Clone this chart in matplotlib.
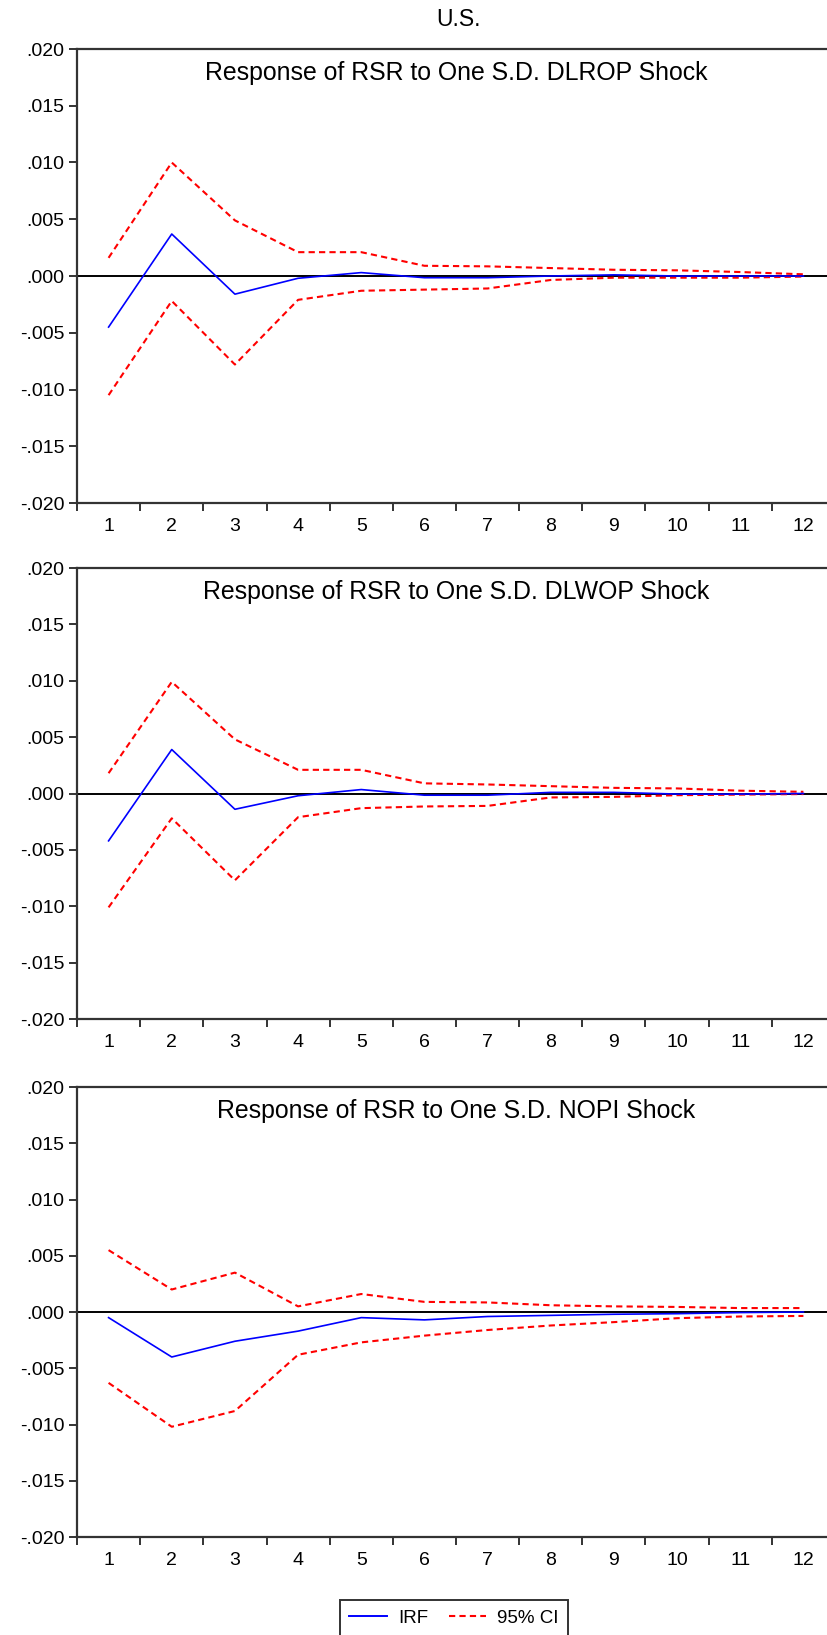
import matplotlib
matplotlib.use("Agg")
import matplotlib.pyplot as plt
from matplotlib.lines import Line2D

plt.rcParams['font.family'] = ['Liberation Sans', 'DejaVu Sans']

# ---- data (values in units of 1e-3) ----
periods = list(range(1, 13))
period_labels = [str(p) for p in periods]

ytick_values = [-0.020, -0.015, -0.010, -0.005, 0.000, 0.005, 0.010, 0.015, 0.020]
ytick_labels = ["-.020", "-.015", "-.010", "-.005", ".000", ".005", ".010", ".015", ".020"]

fig_title = "U.S."
panel_titles = [
    "Response of RSR to One S.D. DLROP Shock",
    "Response of RSR to One S.D. DLWOP Shock",
    "Response of RSR to One S.D. NOPI Shock",
]

irf_dlrop = [-4.5, 3.7, -1.6, -0.2, 0.3, -0.15, -0.15, 0.0, 0.1, 0.0, 0.0, 0.0]
hi_dlrop = [1.6, 10.0, 4.9, 2.1, 2.1, 0.9, 0.85, 0.7, 0.55, 0.5, 0.35, 0.15]
lo_dlrop = [-10.5, -2.2, -7.8, -2.1, -1.3, -1.2, -1.1, -0.35, -0.15, -0.15, -0.15, -0.05]

irf_dlwop = [-4.2, 3.9, -1.4, -0.2, 0.35, -0.15, -0.15, 0.1, 0.1, -0.05, -0.05, 0.0]
hi_dlwop = [1.8, 9.9, 4.8, 2.1, 2.1, 0.9, 0.8, 0.65, 0.5, 0.45, 0.25, 0.15]
lo_dlwop = [-10.1, -2.2, -7.7, -2.1, -1.3, -1.15, -1.1, -0.35, -0.3, -0.15, -0.1, -0.05]

irf_nopi = [-0.5, -4.0, -2.6, -1.7, -0.5, -0.7, -0.4, -0.3, -0.2, -0.15, -0.05, 0.0]
hi_nopi = [5.5, 2.0, 3.5, 0.5, 1.6, 0.9, 0.85, 0.6, 0.5, 0.45, 0.35, 0.35]
lo_nopi = [-6.3, -10.2, -8.8, -3.8, -2.7, -2.1, -1.6, -1.2, -0.9, -0.55, -0.4, -0.35]

legend_labels = ["IRF", "95% CI"]

panels = [
    (irf_dlrop, hi_dlrop, lo_dlrop),
    (irf_dlwop, hi_dlwop, lo_dlwop),
    (irf_nopi, hi_nopi, lo_nopi),
]

# ---- layout ----
W, H = 828, 1635
fig = plt.figure(figsize=(W / 100, H / 100), dpi=100)
fig.patch.set_facecolor("white")

left_px, right_px = 77, 835
panel_px = [(49, 503), (568, 1019), (1087, 1537)]

BLUE = "#0000FF"
RED = "#FF0000"
SPINE = "#333333"
scale = 1e-3

for (top, bot), (irf, hi, lo), title in zip(panel_px, panels, panel_titles):
    ax = fig.add_axes([left_px / W, 1 - bot / H, (right_px - left_px) / W, (bot - top) / H])
    ax.set_xlim(0.5, 12.5)
    ax.set_ylim(-0.020, 0.020)
    ax.axhline(0, color="black", lw=1.4, zorder=1)
    ax.plot(periods, [v * scale for v in hi], color=RED, lw=1.5, dashes=(3, 2), zorder=2)
    ax.plot(periods, [v * scale for v in lo], color=RED, lw=1.5, dashes=(3, 2), zorder=2)
    ax.plot(periods, [v * scale for v in irf], color=BLUE, lw=1.2, zorder=3)

    ax.set_yticks(ytick_values)
    ax.set_yticklabels(ytick_labels)
    ax.set_xticks(periods)
    ax.set_xticklabels(period_labels)
    ax.set_xticks([p - 0.5 for p in periods] + [12.5], minor=True)
    ax.tick_params(axis="x", which="major", length=0, pad=11, labelsize=14)
    ax.tick_params(axis="x", which="minor", length=6, width=1.4, color=SPINE, direction="out")
    ax.tick_params(axis="y", which="major", length=6, width=1.4, color=SPINE, pad=3,
                   labelsize=14, direction="out")
    for s in ["left", "top", "bottom", "right"]:
        ax.spines[s].set_color(SPINE)
        ax.spines[s].set_linewidth(1.6)

    ax.text(0.5, 1 - 24 / (bot - top), title, transform=ax.transAxes,
            ha="center", va="center", fontsize=17.9, color="black")

fig.text(459 / W, 1 - 19 / H, fig_title, ha="center", va="center", fontsize=16.5)

handles = [
    Line2D([], [], color=BLUE, lw=1.4),
    Line2D([], [], color=RED, lw=1.5, dashes=(3, 2)),
]
leg = fig.legend(handles, legend_labels, loc="upper center",
                 bbox_to_anchor=(454 / W, 1 - 1600 / H), ncol=2, frameon=True,
                 fancybox=False, shadow=False, fontsize=13.5, handlelength=2.0,
                 columnspacing=1.1, borderpad=0.5, handletextpad=0.6,
                 borderaxespad=0)
leg.get_frame().set_edgecolor("black")
leg.get_frame().set_linewidth(1.4)

fig.savefig("out.png", dpi=100, facecolor="white")
